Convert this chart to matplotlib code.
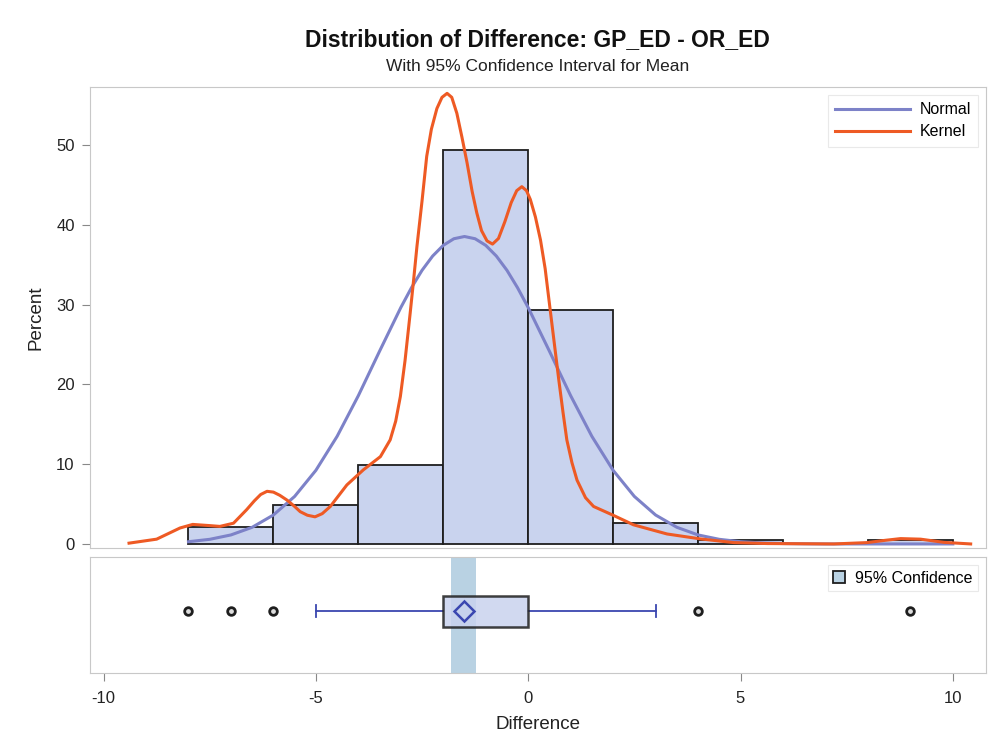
import matplotlib.pyplot as plt
from matplotlib.patches import Rectangle

plt.rcParams['font.family'] = ['Liberation Sans', 'DejaVu Sans']
plt.rcParams['axes.unicode_minus'] = False

# Histogram of the differences (bins of width 2), percent of observations
bin_edges = [-8, -6, -4, -2, 0, 2, 4, 6, 8, 10]
bin_pct = [2.1, 4.85, 9.9, 49.4, 29.35, 2.65, 0.45, 0.0, 0.45]

# Normal density curve (percent scale)
normal_x = [-8, -7.5, -7, -6.5, -6, -5.5, -5, -4.5, -4, -3.5, -3, -2.75, -2.5, -2.25, -2, -1.75, -1.5,
            -1.25, -1, -0.75, -0.5, -0.25, 0, 0.5, 1, 1.5, 2, 2.5, 3, 3.5, 4, 4.5, 5, 5.5, 6, 6.5, 7, 8, 9, 10]
normal_y = [0.28, 0.58, 1.13, 2.09, 3.63, 5.96, 9.23, 13.49, 18.59, 24.17, 29.64, 32.12, 34.31, 36.10, 37.44, 38.27, 38.55,
            38.27, 37.44, 36.10, 34.31, 32.12, 29.64, 24.17, 18.59, 13.49, 9.23, 5.96, 3.63, 2.09, 1.13, 0.58, 0.28, 0.13, 0.05, 0.02, 0.0, 0.0, 0.0, 0.0]

# Kernel density curve (percent scale)
kernel_x = [-9.4, -8.75, -8.2, -7.9, -7.5, -7.26, -6.94, -6.63, -6.45, -6.3, -6.15, -6.0, -5.85, -5.68,
            -5.5, -5.37, -5.2, -5.02, -4.85, -4.66, -4.27, -3.88, -3.48, -3.25, -3.12, -3.01, -2.9,
            -2.78, -2.7, -2.62, -2.5, -2.39, -2.28, -2.15, -2.03, -1.91, -1.8, -1.68, -1.56, -1.44,
            -1.32, -1.21, -1.1, -0.97, -0.84, -0.7, -0.55, -0.4, -0.27, -0.15, -0.04, 0.05, 0.17,
            0.29, 0.4, 0.48, 0.6, 0.72, 0.82, 0.91, 1.03, 1.15, 1.35, 1.54, 2.0, 2.48, 3.27, 4.06,
            4.84, 5.63, 7.2, 7.98, 8.4, 8.77, 9.24, 9.79, 10.42]
kernel_y = [0.1, 0.6, 2.0, 2.45, 2.3, 2.2, 2.6, 4.3, 5.4, 6.2, 6.6, 6.5, 6.1, 5.5,
            4.7, 4.05, 3.6, 3.4, 3.8, 4.7, 7.4, 9.3, 10.95, 13.05, 15.4, 18.5, 23.0,
            28.9, 33.0, 37.3, 43.0, 48.6, 52.0, 54.6, 56.0, 56.5, 56.0, 54.0, 51.0, 47.8,
            44.2, 41.5, 39.3, 38.0, 37.6, 38.3, 40.4, 42.8, 44.3, 44.8, 44.3, 43.2, 41.0,
            38.1, 34.5, 31.0, 25.8, 20.6, 16.5, 13.05, 10.2, 8.0, 5.8, 4.7, 3.6, 2.4, 1.25, 0.63,
            0.17, 0.05, 0.0, 0.17, 0.45, 0.67, 0.6, 0.2, 0.0]

# Box plot summary
q1, q3 = -2, 0
whisker_lo, whisker_hi = -5, 3
mean_val = -1.5
ci_lo, ci_hi = -1.82, -1.24
outliers = [-8, -7, -6, 4, 9]

bar_fill = '#C9D3EE'
normal_color = '#7D82C8'
kernel_color = '#EE5A24'
whisker_color = '#3A47B0'
frame_color = '#C8C8C8'
text_color = '#222222'

fig = plt.figure(figsize=(9.93, 7.53), dpi=100)
ax = fig.add_axes([0.0906, 0.2718, 0.9023, 0.6127])
axb = fig.add_axes([0.0906, 0.1066, 0.9023, 0.1537], sharex=ax)

# Histogram bars
for left, right, pct in zip(bin_edges[:-1], bin_edges[1:], bin_pct):
    if pct > 0:
        ax.bar(left, pct, width=right - left, align='edge', color=bar_fill,
               edgecolor='#1E1E1E', linewidth=1.3, zorder=2)

ax.plot(normal_x, normal_y, color=normal_color, linewidth=2.2, label='Normal', zorder=3)
ax.plot(kernel_x, kernel_y, color=kernel_color, linewidth=2.2, label='Kernel', zorder=4)

ax.set_xlim(-10.32, 10.78)
ax.set_ylim(-0.55, 57.3)
ax.set_yticks([0, 10, 20, 30, 40, 50])
ax.set_ylabel('Percent', fontsize=13.5, color=text_color, labelpad=8)
ax.tick_params(axis='y', labelsize=12, colors='#888888', labelcolor=text_color, length=6, pad=5)
ax.tick_params(axis='x', bottom=False, labelbottom=False)
for s in ax.spines.values():
    s.set_color(frame_color)
leg = ax.legend(loc='upper right', fontsize=11.5, frameon=True, fancybox=False,
                handlelength=4.7, handletextpad=0.6, borderpad=0.45, labelspacing=0.45,
                borderaxespad=0.5)
leg.get_frame().set_edgecolor('#E4E4E4')
leg.get_frame().set_linewidth(0.8)

# Box plot panel
axb.axvspan(ci_lo, ci_hi, color='#B9D2E3', zorder=1, linewidth=0)
axb.plot([whisker_lo, q1], [0, 0], color=whisker_color, linewidth=1.3, zorder=2)
axb.plot([q3, whisker_hi], [0, 0], color=whisker_color, linewidth=1.3, zorder=2)
axb.plot([whisker_lo, whisker_lo], [-0.17, 0.17], color=whisker_color, linewidth=1.3, zorder=2)
axb.plot([whisker_hi, whisker_hi], [-0.17, 0.17], color=whisker_color, linewidth=1.3, zorder=2)
axb.add_patch(Rectangle((q1, -0.45), q3 - q1, 0.9, facecolor=bar_fill, alpha=0.85,
                        edgecolor='#1E1E1E', linewidth=1.8, zorder=3))
axb.plot([mean_val], [0], marker='D', markersize=10, markerfacecolor='none',
         markeredgecolor=whisker_color, markeredgewidth=1.8, linestyle='none', zorder=4)
axb.plot(outliers, [0] * len(outliers), marker='o', markersize=5.5, markerfacecolor='#DDDDDD',
         markeredgecolor='#1E1E1E', markeredgewidth=2, linestyle='none', zorder=4)

axb.set_ylim(-1.75, 1.55)
axb.set_yticks([])
axb.set_xticks([-10, -5, 0, 5, 10])
axb.tick_params(axis='x', labelsize=12, colors='#888888', labelcolor=text_color, length=6, pad=7)
axb.set_xlabel('Difference', fontsize=13.5, color=text_color, labelpad=7)
for s in axb.spines.values():
    s.set_color(frame_color)
ci_handle = Rectangle((0, 0), 1, 1, facecolor='#B9D2E3', edgecolor='#1E1E1E', linewidth=1.3)
leg2 = axb.legend([ci_handle], ['95% Confidence'], loc='upper right', fontsize=11.5,
                  frameon=True, fancybox=False, handlelength=0.75, handleheight=0.75,
                  handletextpad=0.6, borderpad=0.35, borderaxespad=0.5)
leg2.get_frame().set_edgecolor('#E4E4E4')
leg2.get_frame().set_linewidth(0.8)

fig.text(0.541, 0.947, 'Distribution of Difference: GP_ED - OR_ED', ha='center', va='center',
         fontsize=16.5, fontweight='bold', color='#111111')
fig.text(0.541, 0.912, 'With 95% Confidence Interval for Mean', ha='center', va='center',
         fontsize=12.5, color=text_color)

fig.savefig('out.png', dpi=100)
